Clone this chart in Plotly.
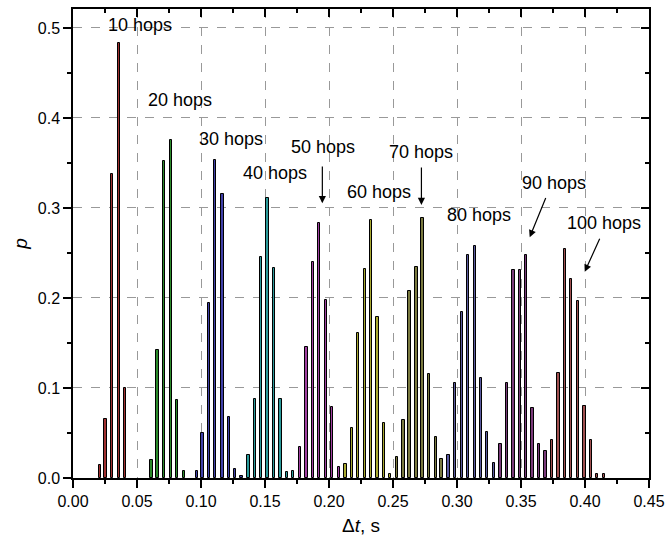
import plotly.graph_objects as go

# ---- data ----
hops10_x = [0.0209, 0.0255, 0.0304, 0.0357, 0.0407]
hops10_p = [0.015, 0.066, 0.338, 0.483, 0.100]
hops20_x = [0.0613, 0.0659, 0.0711, 0.0763, 0.0810, 0.0865]
hops20_p = [0.020, 0.142, 0.352, 0.376, 0.087, 0.008]
hops30_x = [0.0966, 0.1011, 0.1063, 0.1112, 0.1167, 0.1216, 0.1266, 0.1316]
hops30_p = [0.008, 0.050, 0.194, 0.353, 0.316, 0.068, 0.010, 0.002]
hops40_x = [0.1370, 0.1420, 0.1469, 0.1519, 0.1568, 0.1620, 0.1670, 0.1720]
hops40_p = [0.026, 0.088, 0.246, 0.311, 0.233, 0.088, 0.007, 0.008]
hops50_x = [0.1771, 0.1823, 0.1873, 0.1922, 0.1974, 0.2023, 0.2076]
hops50_p = [0.034, 0.146, 0.240, 0.283, 0.198, 0.079, 0.012]
hops60_x = [0.2128, 0.2177, 0.2227, 0.2279, 0.2328, 0.2378, 0.2427, 0.2477]
hops60_p = [0.016, 0.055, 0.161, 0.232, 0.287, 0.179, 0.061, 0.005]
hops70_x = [0.2531, 0.2581, 0.2630, 0.2683, 0.2730, 0.2781, 0.2834, 0.2880]
hops70_p = [0.023, 0.064, 0.208, 0.234, 0.289, 0.115, 0.046, 0.021]
hops80_x = [0.2933, 0.2987, 0.3037, 0.3086, 0.3138, 0.3188, 0.3237, 0.3287]
hops80_p = [0.026, 0.105, 0.184, 0.248, 0.258, 0.111, 0.051, 0.017]
hops90_x = [0.3339, 0.3388, 0.3441, 0.3490, 0.3539, 0.3589, 0.3638, 0.3691]
hops90_p = [0.038, 0.106, 0.231, 0.231, 0.248, 0.078, 0.038, 0.030]
hops100_x = [0.3742, 0.3792, 0.3844, 0.3893, 0.3945, 0.3995, 0.4045, 0.4094, 0.4147]
hops100_p = [0.042, 0.117, 0.254, 0.221, 0.197, 0.080, 0.042, 0.005, 0.005]

groups = [
    ("10 hops", hops10_x, hops10_p, "#a03030"),
    ("20 hops", hops20_x, hops20_p, "#2a8a2a"),
    ("30 hops", hops30_x, hops30_p, "#4040a8"),
    ("40 hops", hops40_x, hops40_p, "#2a9a9a"),
    ("50 hops", hops50_x, hops50_p, "#a040a0"),
    ("60 hops", hops60_x, hops60_p, "#a8a830"),
    ("70 hops", hops70_x, hops70_p, "#7a7a40"),
    ("80 hops", hops80_x, hops80_p, "#5a5aa0"),
    ("90 hops", hops90_x, hops90_p, "#7a3a7a"),
    ("100 hops", hops100_x, hops100_p, "#a05050"),
]

# label positions (data coords) and arrows (head, tail)
labels = ["10 hops", "20 hops", "30 hops", "40 hops", "50 hops",
          "60 hops", "70 hops", "80 hops", "90 hops", "100 hops"]
label_x = [0.0521, 0.0834, 0.1232, 0.1580, 0.1955, 0.2388, 0.2716, 0.3170, 0.3755, 0.4146]
label_y = [0.5034, 0.4202, 0.3768, 0.3386, 0.3682, 0.3181, 0.3626, 0.2922, 0.3275, 0.2836]
arrow_head_x = [0.1948, 0.2722, 0.3568, 0.3998]
arrow_head_y = [0.3052, 0.3033, 0.2674, 0.2291]
arrow_tail_x = [0.1948, 0.2722, 0.3698, 0.4120]
arrow_tail_y = [0.3478, 0.3467, 0.3126, 0.2674]

FONT = "Liberation Sans, Arial, sans-serif"

fig = go.Figure()
for name, xs, ps, col in groups:
    fig.add_trace(go.Bar(
        x=xs, y=ps, width=0.0018, name=name,
        marker=dict(color=col, line=dict(color="black", width=1.0)),
        showlegend=False,
    ))

# dummy trace for the mirrored (top/right) axes
fig.add_trace(go.Scatter(x=[0.2], y=[0.2], xaxis="x2", yaxis="y2",
                         mode="markers", marker=dict(opacity=0),
                         hoverinfo="skip", showlegend=False))

for t, x, y in zip(labels, label_x, label_y):
    fig.add_annotation(x=x, y=y, text=t, showarrow=False,
                       xanchor="center", yanchor="middle",
                       font=dict(family=FONT, size=18, color="black"))

for hx, hy, tx, ty in zip(arrow_head_x, arrow_head_y, arrow_tail_x, arrow_tail_y):
    fig.add_annotation(x=hx, y=hy, ax=tx, ay=ty, axref="x", ayref="y",
                       text="", showarrow=True, arrowhead=2, arrowsize=1.2,
                       arrowwidth=1.2, arrowcolor="black")

common = dict(showline=True, linecolor="black", linewidth=1.5, automargin=False,
              zeroline=False, tickcolor="black", tickwidth=1.5)

fig.update_layout(
    width=669, height=546,
    margin=dict(l=73, r=20, t=9, b=68),
    paper_bgcolor="white", plot_bgcolor="white",
    barmode="overlay", bargap=0,
    font=dict(family=FONT, size=16, color="black"),
    xaxis=dict(range=[0, 0.45], tickvals=[0, 0.05, 0.1, 0.15, 0.2, 0.25, 0.3, 0.35, 0.4, 0.45],
               ticktext=["0.00", "0.05", "0.10", "0.15", "0.20", "0.25", "0.30", "0.35", "0.40", "0.45"],
               ticks="outside", ticklen=8,
               minor=dict(dtick=0.025, tick0=0, ticks="outside", ticklen=4, tickcolor="black", tickwidth=1.5),
               showgrid=True, gridcolor="#999999", griddash="dash", gridwidth=1,
               title=dict(text="Δ<i>t</i>, s", font=dict(size=19), standoff=10),
               tickfont=dict(size=16), **common),
    yaxis=dict(range=[0, 0.521], tickvals=[0, 0.1, 0.2, 0.3, 0.4, 0.5],
               ticktext=["0.0", "0.1", "0.2", "0.3", "0.4", "0.5"],
               ticks="outside", ticklen=8,
               minor=dict(dtick=0.05, tick0=0, ticks="outside", ticklen=4, tickcolor="black", tickwidth=1.5),
               showgrid=True, gridcolor="#999999", griddash="dash", gridwidth=1,
               title=dict(text="<i>p</i>", font=dict(size=19), standoff=5),
               tickfont=dict(size=16), **common),
    xaxis2=dict(overlaying="x", side="top", range=[0, 0.45], dtick=0.05, tick0=0,
                ticks="inside", ticklen=8, showticklabels=False, showgrid=False,
                minor=dict(dtick=0.025, tick0=0, ticks="inside", ticklen=4, tickcolor="black", tickwidth=1.5),
                **common),
    yaxis2=dict(overlaying="y", side="right", range=[0, 0.521], dtick=0.1, tick0=0,
                ticks="inside", ticklen=8, showticklabels=False, showgrid=False,
                minor=dict(dtick=0.05, tick0=0, ticks="inside", ticklen=4, tickcolor="black", tickwidth=1.5),
                **common),
)

fig.write_html("out.html", config={"displayModeBar": False},
               post_script="document.body.style.margin='0';document.body.style.padding='0';")
